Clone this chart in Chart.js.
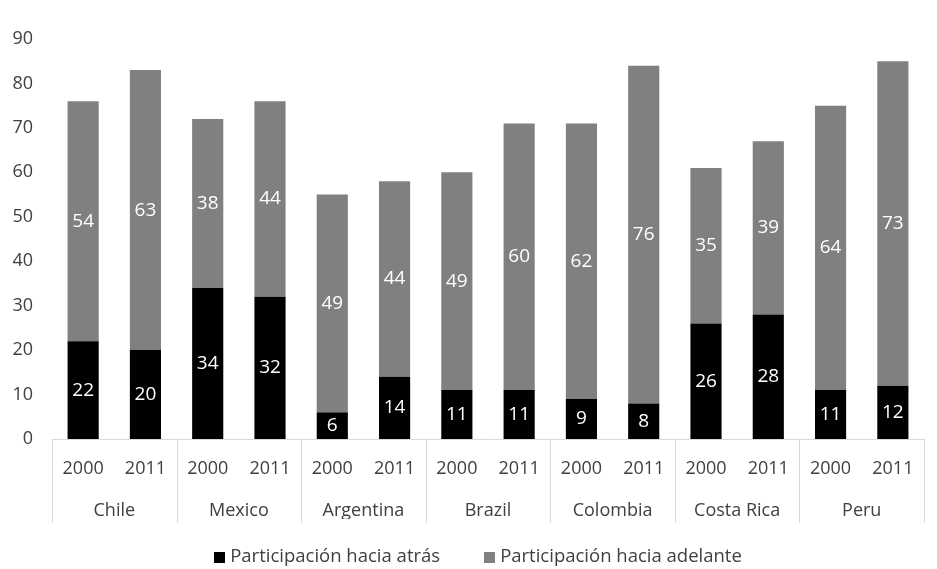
<!DOCTYPE html>
<html>
<head>
<meta charset="utf-8">
<script src="https://cdn.jsdelivr.net/npm/chart.js@4.4.1/dist/chart.umd.min.js"></script>
<style>
  body { margin: 0; background: #fff; }
  #wrap { width: 937px; height: 569px; }
</style>
</head>
<body>
<div id="wrap"><canvas id="myChart"></canvas></div>
<script>
const countries = ['Chile', 'Mexico', 'Argentina', 'Brazil', 'Colombia', 'Costa Rica', 'Peru'];
const years = ['2000', '2011'];
const atras = [22, 20, 34, 32, 6, 14, 11, 11, 9, 8, 26, 28, 11, 12];
const adelante = [54, 63, 38, 44, 49, 44, 49, 60, 62, 76, 35, 39, 64, 73];
const yTicks = [0, 10, 20, 30, 40, 50, 60, 70, 80, 90];

const yearLabels = countries.flatMap(() => years);
const FONT = "'Open Sans', sans-serif";
const textColor = '#404040';

// white numbers in the middle of each segment
const segmentLabels = {
  id: 'segmentLabels',
  afterDatasetsDraw(chart) {
    const ctx = chart.ctx;
    ctx.save();
    ctx.fillStyle = '#ffffff';
    ctx.font = '19px ' + FONT;
    ctx.textAlign = 'center';
    ctx.textBaseline = 'middle';
    chart.data.datasets.forEach((ds, di) => {
      chart.getDatasetMeta(di).data.forEach((bar, i) => {
        const mid = (bar.y + bar.base) / 2;
        ctx.fillText(String(ds.data[i]), bar.x, mid);
      });
    });
    ctx.restore();
  }
};

// vertical lines between the country groups
const groupLines = {
  id: 'groupLines',
  afterDraw(chart) {
    const x = chart.scales.x;
    const x2 = chart.scales.x2;
    const ctx = chart.ctx;
    ctx.save();
    ctx.strokeStyle = '#d9d9d9';
    ctx.lineWidth = 1;
    for (let i = 0; i <= countries.length; i++) {
      let px;
      if (i === 0) px = x.left;
      else if (i === countries.length) px = x.right;
      else px = (x.getPixelForValue(2 * i - 1) + x.getPixelForValue(2 * i)) / 2;
      px = Math.round(px) + 0.5;
      ctx.beginPath();
      ctx.moveTo(px, x.top);
      ctx.lineTo(px, x2.bottom + 4);
      ctx.stroke();
    }
    ctx.restore();
  }
};

// legend row under the axis, wider gap between the two entries
const bottomLegend = {
  id: 'bottomLegend',
  afterDraw(chart) {
    const ctx = chart.ctx;
    const area = chart.chartArea;
    const y = 557;
    const box = 11, gapText = 5, gapItem = 44;
    ctx.save();
    ctx.font = '18.5px ' + FONT;
    ctx.textBaseline = 'middle';
    const items = chart.data.datasets.map(ds => ({
      text: ds.label,
      color: ds.backgroundColor,
      w: ctx.measureText(ds.label).width
    }));
    const total = items.reduce((s, it) => s + box + gapText + it.w, 0) + gapItem * (items.length - 1);
    let cx = (area.left + area.right) / 2 - 10 - total / 2;
    items.forEach(it => {
      ctx.fillStyle = it.color;
      ctx.fillRect(Math.round(cx), Math.round(y - box / 2), box, box);
      ctx.fillStyle = textColor;
      ctx.fillText(it.text, cx + box + gapText, y);
      cx += box + gapText + it.w + gapItem;
    });
    ctx.restore();
  }
};

new Chart(document.getElementById('myChart'), {
  type: 'bar',
  data: {
    labels: yearLabels,
    datasets: [
      {
        label: 'Participación hacia atrás',
        data: atras,
        backgroundColor: '#000000'
      },
      {
        label: 'Participación hacia adelante',
        data: adelante,
        backgroundColor: '#808080'
      }
    ]
  },
  options: {
    responsive: true,
    maintainAspectRatio: false,
    animation: false,
    datasets: {
      bar: { categoryPercentage: 1, barPercentage: 0.5 }
    },
    layout: {
      padding: { left: 12, right: 13, top: 39, bottom: 50 }
    },
    scales: {
      x: {
        stacked: true,
        grid: { display: false, drawTicks: false },
        border: { display: true, color: '#d9d9d9' },
        ticks: {
          color: textColor,
          font: { family: FONT, size: 18 },
          maxRotation: 0,
          autoSkip: false,
          padding: 19
        },
        afterFit(scale) { scale.height = 39; }
      },
      x2: {
        type: 'category',
        position: 'bottom',
        labels: countries,
        offset: true,
        grid: { display: false, drawTicks: false },
        border: { display: false },
        ticks: {
          color: textColor,
          font: { family: FONT, size: 18 },
          maxRotation: 0,
          autoSkip: false,
          padding: 22
        },
        afterFit(scale) { scale.height = 41; }
      },
      y: {
        stacked: true,
        min: 0,
        max: 90,
        grid: { display: false, drawTicks: false },
        border: { display: false },
        afterBuildTicks(scale) {
          scale.ticks = yTicks.map(v => ({ value: v }));
        },
        ticks: {
          color: textColor,
          font: { family: FONT, size: 18 },
          padding: 19
        },
        afterFit(scale) { scale.width = 40; }
      }
    },
    plugins: {
      legend: { display: false },
      tooltip: { enabled: false }
    }
  },
  plugins: [segmentLabels, groupLines, bottomLegend]
});
</script>
</body>
</html>
